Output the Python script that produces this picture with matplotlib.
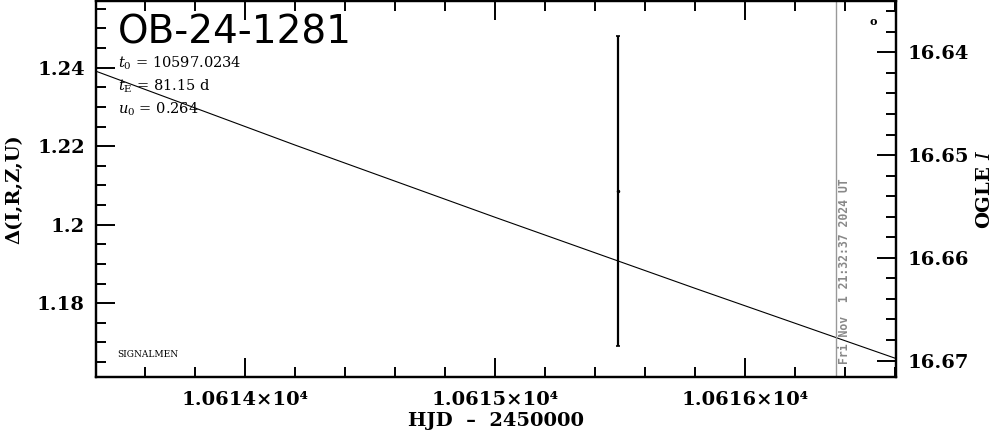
import matplotlib
matplotlib.use("Agg")
import matplotlib.pyplot as plt
from matplotlib.ticker import MultipleLocator, FuncFormatter

plt.rcParams['font.family'] = 'DejaVu Serif'
plt.rcParams['mathtext.fontset'] = 'dejavuserif'

# event info
event_name = "OB-24-1281"
t0 = "10597.0234"
tE = "81.15"
u0 = "0.264"
stamp = "Fri Nov  1 21:32:37 2024 UT"

# model curve (HJD-2450000, Delta mag)
model_t = [10613.40, 10614.20, 10615.00, 10615.80, 10616.60]
model_d = [1.2392, 1.2203, 1.2019, 1.1838, 1.1660]

# OGLE point
ogle_t = [10615.492]
ogle_i = [16.6535]
ogle_err = [0.0151]

now_t = 10616.364

xlim = (10613.404, 10616.604)
ylim_left = (1.1612, 1.2570)
ylim_right = (16.6716, 16.6350)

fig = plt.figure(figsize=(9.99, 4.34), dpi=100)
ax = fig.add_axes([0.0961, 0.1313, 0.8008, 0.8664])
ax2 = ax.twinx()

ax.plot(model_t, model_d, color='black', lw=0.8)
ax.axvline(now_t, color='#999999', lw=1.0)
ax2.errorbar(ogle_t, ogle_i, yerr=ogle_err, fmt='o', ms=1.5, color='black',
             elinewidth=1.6, capsize=1.5, capthick=1.2)

ax.set_xlim(*xlim)
ax.set_ylim(*ylim_left)
ax2.set_ylim(*ylim_right)

ax.xaxis.set_major_locator(MultipleLocator(1.0))
ax.xaxis.set_minor_locator(MultipleLocator(0.2))
ax.yaxis.set_major_locator(MultipleLocator(0.02))
ax.yaxis.set_minor_locator(MultipleLocator(0.005))
ax2.yaxis.set_major_locator(MultipleLocator(0.01))
ax2.yaxis.set_minor_locator(MultipleLocator(0.002))

def xfmt(v, pos):
    return "%.4f×10⁴" % (v / 1e4)

def lfmt(v, pos):
    s = "%.2f" % v
    return s.rstrip('0').rstrip('.') if s.endswith('0') else s

ax.xaxis.set_major_formatter(FuncFormatter(xfmt))
ax.yaxis.set_major_formatter(FuncFormatter(lfmt))
ax2.yaxis.set_major_formatter(FuncFormatter(lambda v, p: "%.2f" % v))

ax.tick_params(axis='x', which='both', direction='in', top=True, bottom=True,
               labelsize=14, pad=10, width=1.4)
ax.tick_params(axis='y', which='both', direction='in', left=True, right=False,
               labelsize=14, pad=8, width=1.4)
ax2.tick_params(axis='y', which='both', direction='in', right=True, left=False,
                labelsize=14, pad=8, width=1.4)
for a in (ax, ax2):
    a.tick_params(which='major', length=14)
    a.tick_params(which='minor', length=7)
    for lab in a.get_xticklabels() + a.get_yticklabels():
        lab.set_fontweight('bold')
    for sp in a.spines.values():
        sp.set_linewidth(1.6)

ax.set_xlabel("HJD  –  2450000", fontsize=14, fontweight='bold', labelpad=2)
ax.set_ylabel("Δ(I,R,Z,U)", fontsize=14, fontweight='bold', labelpad=10)
ax2.set_ylabel("OGLE $\\mathbf{\\it{I}}$", fontsize=14, fontweight='bold', labelpad=5)

ax.text(0.027, 0.915, event_name, transform=ax.transAxes, fontsize=28,
        family='DejaVu Sans', va='center', ha='left')
ax.text(0.027, 0.835, "$t_0$ = " + t0, transform=ax.transAxes, fontsize=10.5,
        va='center', ha='left')
ax.text(0.027, 0.773, "$t_\\mathrm{E}$ = " + tE + " d", transform=ax.transAxes,
        fontsize=10.5, va='center', ha='left')
ax.text(0.027, 0.712, "$u_0$ = " + u0, transform=ax.transAxes, fontsize=10.5,
        va='center', ha='left')
ax.text(0.027, 0.06, "SIGNALMEN", transform=ax.transAxes, fontsize=6.5,
        va='center', ha='left')
ax.text(0.972, 0.945, "o", transform=ax.transAxes, fontsize=8, fontweight='bold',
        va='center', ha='center')
ax.text(now_t + 0.035, ylim_left[0] + 0.0033, stamp, rotation=90, fontsize=8.3,
        family='DejaVu Sans Mono', fontweight='bold', color='#888888',
        va='bottom', ha='center')

fig.savefig("out.png", dpi=100)
